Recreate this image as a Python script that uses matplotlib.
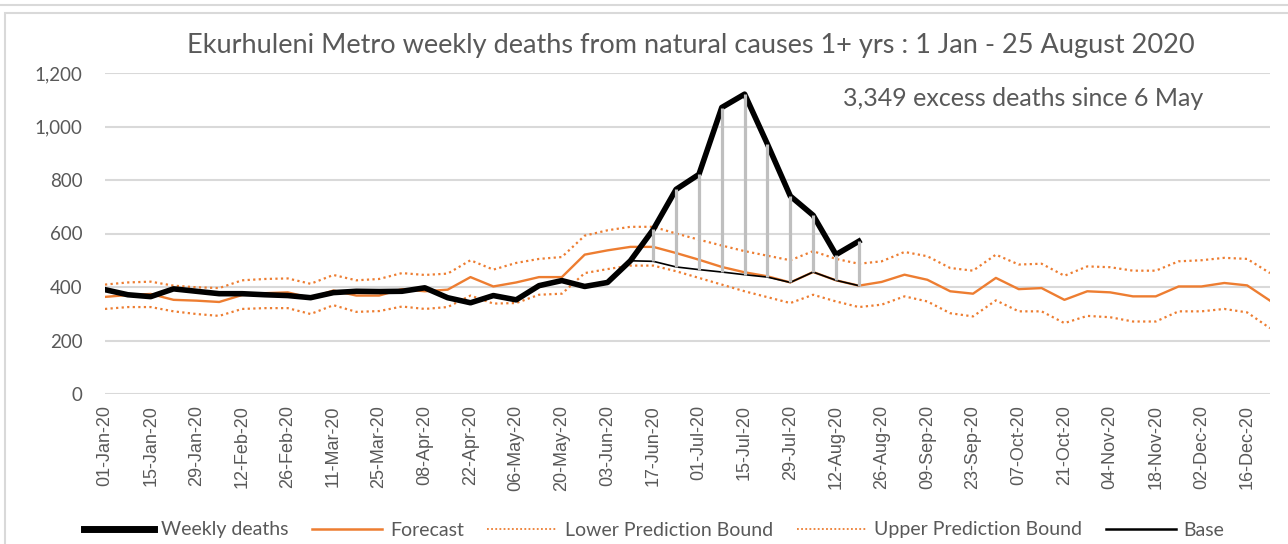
import matplotlib
matplotlib.use('Agg')
import matplotlib.pyplot as plt
from matplotlib.patches import Rectangle
from matplotlib.lines import Line2D

# week starting dates, 2020 (every week, labels shown every second week)
week_labels = ['01-Jan-20', '08-Jan-20', '15-Jan-20', '22-Jan-20', '29-Jan-20', '05-Feb-20',
               '12-Feb-20', '19-Feb-20', '26-Feb-20', '04-Mar-20', '11-Mar-20', '18-Mar-20',
               '25-Mar-20', '01-Apr-20', '08-Apr-20', '15-Apr-20', '22-Apr-20', '29-Apr-20',
               '06-May-20', '13-May-20', '20-May-20', '27-May-20', '03-Jun-20', '10-Jun-20',
               '17-Jun-20', '24-Jun-20', '01-Jul-20', '08-Jul-20', '15-Jul-20', '22-Jul-20',
               '29-Jul-20', '05-Aug-20', '12-Aug-20', '19-Aug-20', '26-Aug-20', '02-Sep-20',
               '09-Sep-20', '16-Sep-20', '23-Sep-20', '30-Sep-20', '07-Oct-20', '14-Oct-20',
               '21-Oct-20', '28-Oct-20', '04-Nov-20', '11-Nov-20', '18-Nov-20', '25-Nov-20',
               '02-Dec-20', '09-Dec-20', '16-Dec-20', '23-Dec-20']

weekly_deaths = [390, 371, 364, 393, 384, 375, 375, 371, 368, 360, 379, 384, 383, 384, 397, 360,
                 341, 368, 352, 405, 424, 402, 417, 498, 615, 765, 821, 1071, 1121, 934, 740, 668,
                 521, 571]

forecast = [363, 370, 374, 352, 349, 344, 370, 377, 380, 359, 387, 368, 368, 392, 384, 390,
            437, 402, 417, 437, 437, 521, 537, 550, 550, 527, 502, 475, 455, 440, 417, 456,
            425, 405, 419, 446, 427, 384, 375, 434, 392, 396, 352, 384, 380, 365, 365, 402,
            402, 415, 406, 349]

upper_bound = [409, 417, 420, 405, 399, 396, 425, 430, 432, 412, 445, 425, 430, 452, 445, 450,
               500, 465, 490, 505, 512, 592, 612, 625, 625, 600, 577, 555, 534, 517, 500, 534,
               505, 487, 496, 531, 515, 471, 461, 521, 484, 487, 442, 477, 474, 461, 461, 496,
               500, 509, 505, 452]

lower_bound = [318, 325, 325, 309, 299, 292, 318, 321, 321, 299, 332, 307, 310, 327, 318, 325,
               368, 338, 340, 371, 375, 452, 467, 480, 480, 459, 434, 409, 384, 362, 340, 371,
               346, 325, 334, 365, 346, 302, 290, 350, 309, 309, 265, 292, 287, 271, 271, 309,
               309, 318, 305, 246]

# base line only visible from 03-Jun (week 22) to 19-Aug (week 33)
base_start = 22
base = [417, 498, 496, 475, 465, 456, 446, 437, 417, 456, 425, 405]

ORANGE = '#ED7D31'
GREY_TXT = '#595959'

fig = plt.figure(figsize=(12.88, 5.44), dpi=100)
ax = fig.add_axes([105 / 1288, 1 - 394 / 544, (1270 - 105) / 1288, (394 - 73) / 544])

x_all = list(range(len(week_labels)))
x_wd = x_all[:len(weekly_deaths)]
x_base = x_all[base_start:base_start + len(base)]

ax.plot(x_all, lower_bound, color=ORANGE, lw=1.6, ls=(0, (1, 1.5)), zorder=3)
ax.plot(x_all, upper_bound, color=ORANGE, lw=1.6, ls=(0, (1, 1.5)), zorder=3)
ax.plot(x_all, forecast, color=ORANGE, lw=1.7, zorder=4)
ax.plot(x_base, base, color='black', lw=1.2, zorder=5)
ax.plot(x_wd, weekly_deaths, color='black', lw=4.0, solid_joinstyle='round', zorder=6)

# grey high-low lines between weekly deaths and base
wd_part = weekly_deaths[base_start:]
ax.vlines(x_base, base, wd_part, color='#BFBFBF', lw=2.3, zorder=7)

ax.set_xlim(0, len(week_labels) - 1)
ax.set_ylim(0, 1200)
ax.set_yticks(range(0, 1201, 200))
ax.set_yticklabels([f'{v:,}' for v in range(0, 1201, 200)], fontsize=13.5, color=GREY_TXT,
                   family='Lato')
ax.set_xticks(x_all[::2])
ax.set_xticklabels(week_labels[::2], rotation=90, fontsize=13, color=GREY_TXT,
                   family='Liberation Sans')
ax.tick_params(axis='y', length=0, pad=16)
ax.tick_params(axis='x', length=0, pad=8)
ax.grid(axis='y', color='#D9D9D9', lw=1.5)
ax.set_axisbelow(True)
for s in ax.spines.values():
    s.set_visible(False)

fig.text(691 / 1288, 1 - 46 / 544,
         'Ekurhuleni Metro weekly deaths from natural causes 1+ yrs : 1 Jan - 25 August 2020',
         ha='center', va='center', fontsize=19.5, color=GREY_TXT, family='Lato')
fig.text(1203 / 1288, 1 - 98 / 544, '3,349 excess deaths since 6 May',
         ha='right', va='center', fontsize=18, color=GREY_TXT, family='Lato')

handles = [
    Line2D([], [], color='black', lw=5),
    Line2D([], [], color=ORANGE, lw=1.8),
    Line2D([], [], color=ORANGE, lw=1.3, ls=(0, (1, 1.3))),
    Line2D([], [], color=ORANGE, lw=1.3, ls=(0, (1, 1.3))),
    Line2D([], [], color='black', lw=1.8),
]
names = ['Weekly deaths', 'Forecast', 'Lower Prediction Bound', 'Upper Prediction Bound', 'Base']
leg = fig.legend(handles, names, loc='center', bbox_to_anchor=(654 / 1288, 1 - 530 / 544),
                 ncol=5, frameon=False, handlelength=3.6, handletextpad=0.4,
                 columnspacing=1.2, prop={'family': 'Lato', 'size': 14})
for t in leg.get_texts():
    t.set_color(GREY_TXT)

# chart border like the spreadsheet frame
fig.add_artist(Rectangle((5 / 1288, -0.05), 1.1, 1 - 13 / 544 + 0.05, transform=fig.transFigure,
                         fill=False, ec='#D9D9D9', lw=1.5))
fig.add_artist(Line2D([0, 1], [1 - 5 / 544, 1 - 5 / 544], transform=fig.transFigure,
                      color='#D9D9D9', lw=1.5))

fig.savefig('out.png', dpi=100)
